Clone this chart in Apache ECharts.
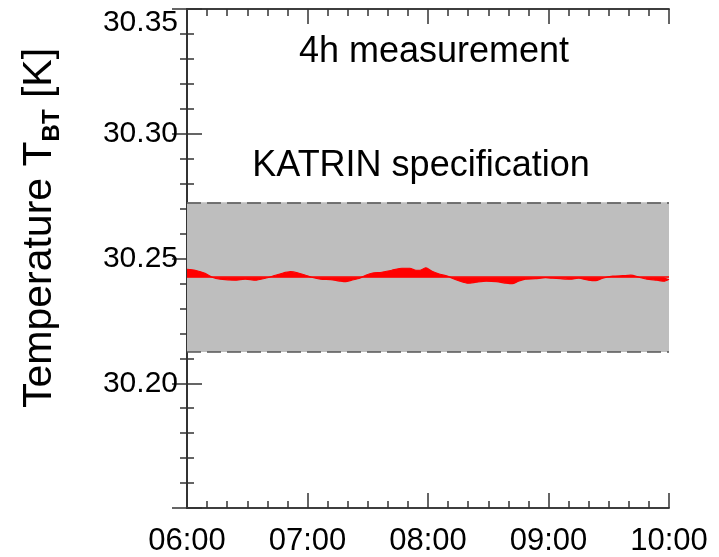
<!DOCTYPE html>
<html>
<head>
<meta charset="utf-8">
<script src="https://cdn.jsdelivr.net/npm/echarts@6/dist/echarts.min.js"></script>
<style>
  html, body { margin: 0; padding: 0; background: #fff; }
  #chart { width: 719px; height: 557px; }
</style>
</head>
<body>
<div id="chart"></div>
<script>
// minutes after 06:00
var minutes = [0, 4, 9, 12.5, 16.5, 24, 29, 34, 39, 42.5, 47.5, 51.5, 55, 59, 62, 66.5, 71.5, 76.5, 79, 82,
    86, 89, 92, 97, 102, 107, 111, 114, 116, 119, 122, 126, 130, 132, 136, 140, 144, 149, 154, 159,
    162, 165, 168.5, 173.5, 178.5, 182, 186, 191, 195, 200, 203.5, 207, 212, 217, 221, 225, 229, 234, 237.5, 240];
var temps = [30.2457, 30.2453, 30.2441, 30.2425, 30.2417, 30.2413, 30.2417, 30.2413, 30.2421, 30.2429,
    30.2441, 30.2447, 30.2443, 30.2433, 30.2425, 30.2417, 30.2415, 30.2409, 30.2407, 30.2413,
    30.2421, 30.2433, 30.2441, 30.2445, 30.2453, 30.2461, 30.2461, 30.2453, 30.2453, 30.2463,
    30.2449, 30.2437, 30.2429, 30.2421, 30.2409, 30.2401, 30.2405, 30.2409, 30.2407, 30.2401,
    30.2399, 30.2409, 30.2417, 30.2419, 30.2423, 30.2421, 30.2419, 30.2417, 30.2421, 30.2413,
    30.2411, 30.2421, 30.2429, 30.2431, 30.2433, 30.2425, 30.2417, 30.2413, 30.2409, 30.2417];
var baseline = 30.2425;
var specBand = [30.2125, 30.2725];
var hourLabels = ['06:00', '07:00', '08:00', '09:00', '10:00'];

var points = [];
for (var i = 0; i < minutes.length; i++) {
    points.push([minutes[i], temps[i]]);
}

var axisColor = '#333';
var font = 'Liberation Sans, Arial, sans-serif';

// frame axis: ticks inside, no labels
function frameX(pos, step, len) {
    return {
        type: 'value', position: pos, min: 0, max: 240, interval: step,
        axisLine: { show: true, lineStyle: { color: axisColor, width: 1.5 } },
        axisTick: { show: true, inside: true, length: len, lineStyle: { color: axisColor, width: 1.5 } },
        splitLine: { show: false },
        axisLabel: { show: false }
    };
}
function frameY(pos, step, len) {
    return {
        type: 'value', position: pos, min: 30.15, max: 30.35, interval: step,
        axisLine: { show: true, lineStyle: { color: axisColor, width: 1.5 } },
        axisTick: { show: true, inside: true, length: len, lineStyle: { color: axisColor, width: 1.5 } },
        splitLine: { show: false },
        axisLabel: { show: false }
    };
}

var xMain = frameX('bottom', 60, 15);
xMain.axisLabel = {
    show: true, margin: 18, fontSize: 31, color: '#000', fontFamily: font,
    formatter: function (v) { return hourLabels[Math.round(v / 60)]; }
};
var yMain = frameY('left', 0.05, 15);
yMain.axisLabel = {
    show: true, margin: 9, fontSize: 30, color: '#000', fontFamily: font,
    formatter: function (v) {
        if (v < 30.16) return '';
        if (v > 30.34) return '{top|' + v.toFixed(2) + '}';
        return v.toFixed(2);
    },
    rich: { top: { fontSize: 30, fontFamily: font, color: '#000', padding: [28, 0, 0, 0] } }
};

var chart = echarts.init(document.getElementById('chart'));
var option = {
    animation: false,
    grid: { left: 187, right: 50, top: 9, bottom: 49 },
    xAxis: [xMain, frameX('top', 60, 15), frameX('bottom', 10, 7), frameX('top', 10, 7)],
    yAxis: [yMain, frameY('right', 0.05, 15), frameY('left', 0.01, 7), frameY('right', 0.01, 7)],
    series: [{
        name: 'spec',
        type: 'line',
        data: [],
        z: 1,
        markArea: {
            silent: true,
            itemStyle: { color: '#bebebe' },
            data: [[{ yAxis: specBand[0] }, { yAxis: specBand[1] }]]
        },
        markLine: {
            silent: true,
            symbol: 'none',
            precision: 5,
            label: { show: false },
            lineStyle: { color: '#555', type: [14, 6], width: 1.5 },
            data: [{ yAxis: specBand[0] }, { yAxis: specBand[1] }]
        }
    }, {
        name: 'T_BT',
        type: 'line',
        data: points,
        z: 3,
        symbol: 'none',
        smooth: 0.2,
        lineStyle: { color: '#ff0000', width: 1.2 },
        areaStyle: { color: '#ff0000', opacity: 1, origin: baseline },
        markLine: {
            silent: true,
            symbol: 'none',
            precision: 5,
            label: { show: false },
            lineStyle: { color: '#ff0000', type: 'solid', width: 1.5 },
            data: [{ yAxis: baseline }]
        }
    }],
    graphic: [{
        type: 'text', x: 434, y: 52,
        style: { text: '4h measurement', fontSize: 36, fontFamily: font, fill: '#000', align: 'center', verticalAlign: 'middle' }
    }, {
        type: 'text', x: 421, y: 166,
        style: { text: 'KATRIN specification', fontSize: 36, fontFamily: font, fill: '#000', align: 'center', verticalAlign: 'middle' }
    }, {
        type: 'text', x: 40, y: 228, rotation: Math.PI / 2,
        style: {
            text: '{a|Temperature T}{s|BT}{a| [K]}',
            align: 'center', verticalAlign: 'middle',
            rich: {
                a: { fontSize: 41, fontFamily: font, fill: '#000', lineHeight: 48, verticalAlign: 'middle' },
                s: { fontSize: 24, fontFamily: font, fill: '#000', fontWeight: 'bold', lineHeight: 48, verticalAlign: 'bottom' }
            }
        }
    }]
};
chart.setOption(option);
</script>
</body>
</html>
